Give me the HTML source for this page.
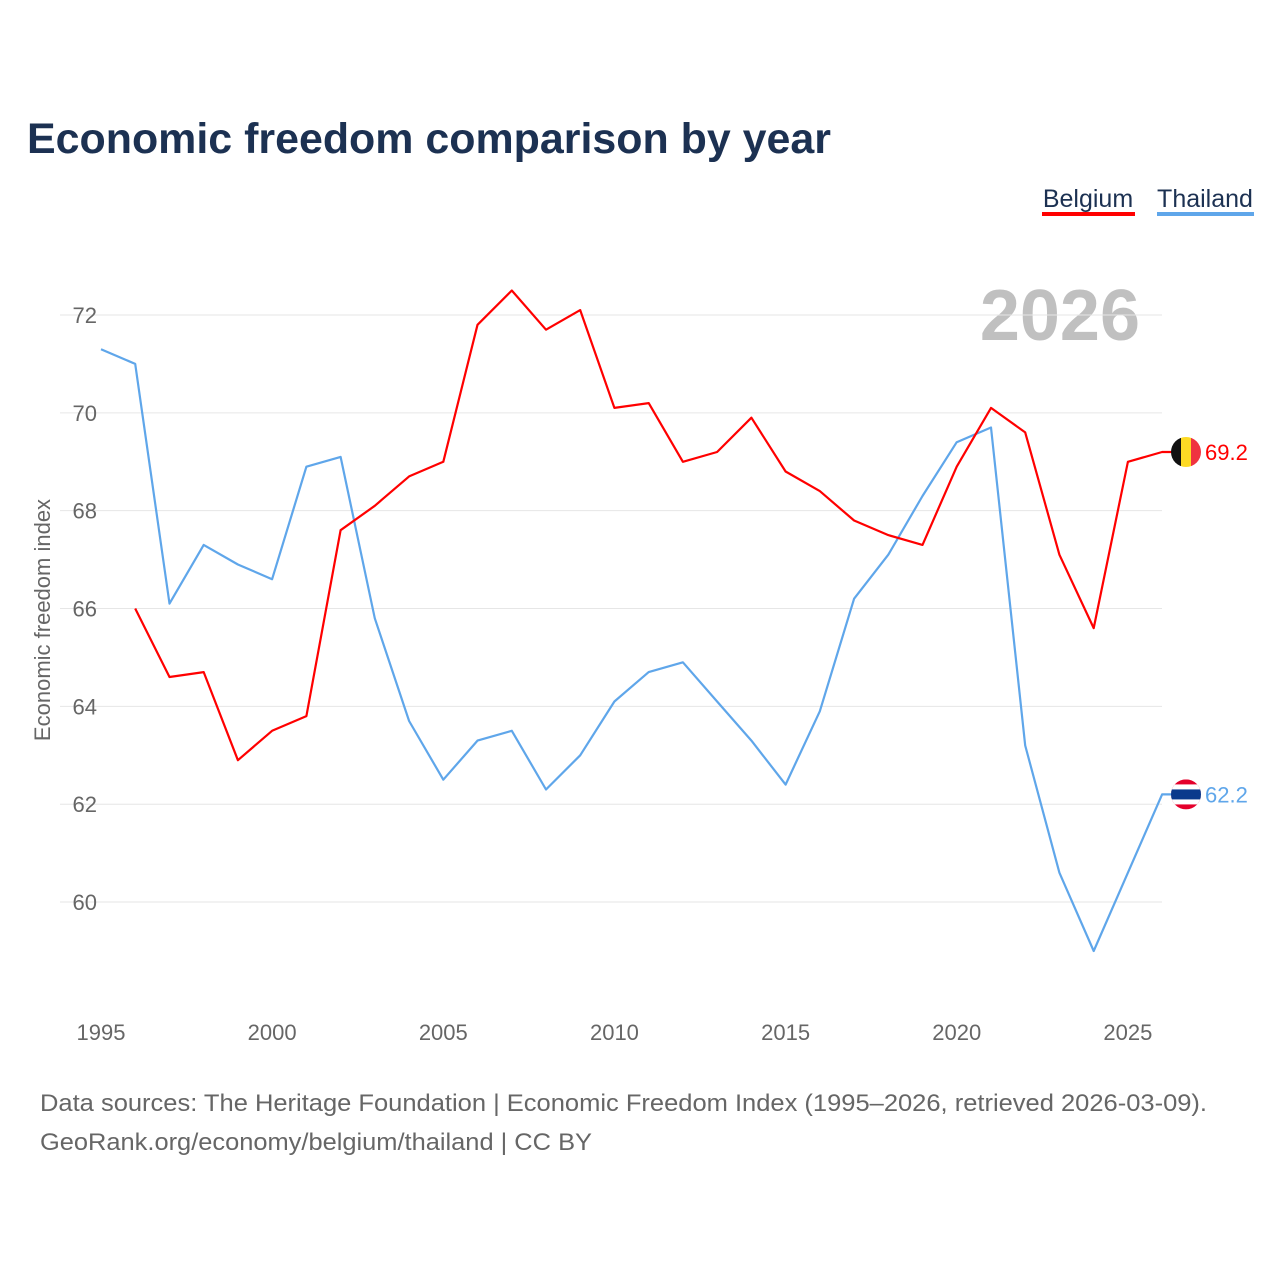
<!DOCTYPE html>
<html><head><meta charset="utf-8">
<style>
body{margin:0;background:#fff;font-family:"Liberation Sans",sans-serif;}
#wrap{position:relative;width:1280px;height:1280px;overflow:hidden;}
</style></head>
<body>
<div id="wrap">
<svg id="chart" width="1280" height="1280">
<text x="27" y="153" font-size="43" font-weight="bold" fill="#1c3152" textLength="804" lengthAdjust="spacingAndGlyphs">Economic freedom comparison by year</text>
<g>
<text x="1088" y="207" font-size="25" fill="#1c3152" text-anchor="middle">Belgium</text>
<rect x="1042" y="212" width="93" height="4" fill="#ff0000"/>
</g>
<g>
<text x="1205" y="207" font-size="25" fill="#1c3152" text-anchor="middle">Thailand</text>
<rect x="1157" y="212" width="97" height="4" fill="#5fa6ea"/>
</g>
<text x="1140" y="340" font-size="72" font-weight="bold" fill="#c0c0c0" text-anchor="end">2026</text>
<text transform="translate(50,620) rotate(-90)" font-size="22" fill="#666" text-anchor="middle">Economic freedom index</text>
<g id="grid"></g><g id="xt"></g><g id="series"></g>
<text x="40" y="1111" font-size="24" fill="#666" textLength="1167" lengthAdjust="spacingAndGlyphs">Data sources: The Heritage Foundation | Economic Freedom Index (1995–2026, retrieved 2026-03-09).</text>
<text x="40" y="1150" font-size="24" fill="#666" textLength="552" lengthAdjust="spacingAndGlyphs">GeoRank.org/economy/belgium/thailand | CC BY</text>
</svg>
</div>
<script>
const years=[];for(let y=1995;y<=2026;y++)years.push(y);
const belgium=[null,66.0,64.6,64.7,62.9,63.5,63.8,67.6,68.1,68.7,69.0,71.8,72.5,71.7,72.1,70.1,70.2,69.0,69.2,69.9,68.8,68.4,67.8,67.5,67.3,68.9,70.1,69.6,67.1,65.6,69.0,69.2];
const thailand=[71.3,71.0,66.1,67.3,66.9,66.6,68.9,69.1,65.8,63.7,62.5,63.3,63.5,62.3,63.0,64.1,64.7,64.9,64.1,63.3,62.4,63.9,66.2,67.1,68.3,69.4,69.7,63.2,60.6,59.0,60.6,62.2];
const yTicks=[60,62,64,66,68,70,72];
const xTicks=[1995,2000,2005,2010,2015,2020,2025];
const X=y=>101+(y-1995)*34.23;
const Y=v=>315+(72-v)*48.92;
const NS="http://www.w3.org/2000/svg";
function mk(t,a,p){const e=document.createElementNS(NS,t);for(const k in a)e.setAttribute(k,a[k]);p.appendChild(e);return e;}
const grid=document.getElementById('grid');
yTicks.forEach(v=>{
 const l=mk('line',{x1:60,x2:1162,y1:Y(v),y2:Y(v),stroke:'#e6e6e6','stroke-width':1},grid);
 
 
 const t=mk('text',{x:97,y:Y(v)+8,'font-size':22,fill:'#666','text-anchor':'end'},grid);t.textContent=v;
 
 
});
const xt=document.getElementById('xt');
xTicks.forEach(v=>{
 const t=mk('text',{x:X(v),y:1040,'font-size':22,fill:'#666','text-anchor':'middle'},xt);t.textContent=v;
 
 
});
const s=document.getElementById('series');
function line(data,color,name){
 let d='';data.forEach((v,i)=>{if(v==null)return;d+=(d?'L':'M')+X(years[i]).toFixed(1)+','+Y(v).toFixed(1);});
 const last=data[data.length-1];const cy=Y(last);
 d+='L1172,'+cy.toFixed(1);
 const p=mk('path',{d:d,fill:'none',stroke:color,'stroke-width':2.2,'stroke-linejoin':'round'},s);
 
 
 const g=mk('g',{},s);
 
 
 const cx=1186;
 if(name==='belgium'){
  mk('clipPath',{id:'cb'},g).appendChild(document.createElementNS(NS,'circle'));
  const c=g.querySelector('clipPath circle');c.setAttribute('cx',cx);c.setAttribute('cy',cy);c.setAttribute('r',15);
  mk('rect',{x:cx-15,y:cy-15,width:10,height:30,fill:'#111','clip-path':'url(#cb)'},g);
  mk('rect',{x:cx-5,y:cy-15,width:10,height:30,fill:'#fdda24','clip-path':'url(#cb)'},g);
  mk('rect',{x:cx+5,y:cy-15,width:10,height:30,fill:'#ef3340','clip-path':'url(#cb)'},g);
 }else{
  mk('clipPath',{id:'ct'},g).appendChild(document.createElementNS(NS,'circle'));
  const c=g.querySelector('clipPath circle');c.setAttribute('cx',cx);c.setAttribute('cy',cy);c.setAttribute('r',15);
  mk('rect',{x:cx-15,y:cy-15,width:30,height:30,fill:'#e4002b','clip-path':'url(#ct)'},g);
  mk('rect',{x:cx-15,y:cy-10,width:30,height:20,fill:'#fff','clip-path':'url(#ct)'},g);
  mk('rect',{x:cx-15,y:cy-5,width:30,height:10,fill:'#0a3a8c','clip-path':'url(#ct)'},g);
 }
 const t=mk('text',{x:1205,y:cy+8,'font-size':22,fill:color},s);t.textContent=last.toFixed(1);
 
 
}
line(thailand,'#5fa6ea','thailand');
line(belgium,'#ff0000','belgium');
</script>
</body></html>
